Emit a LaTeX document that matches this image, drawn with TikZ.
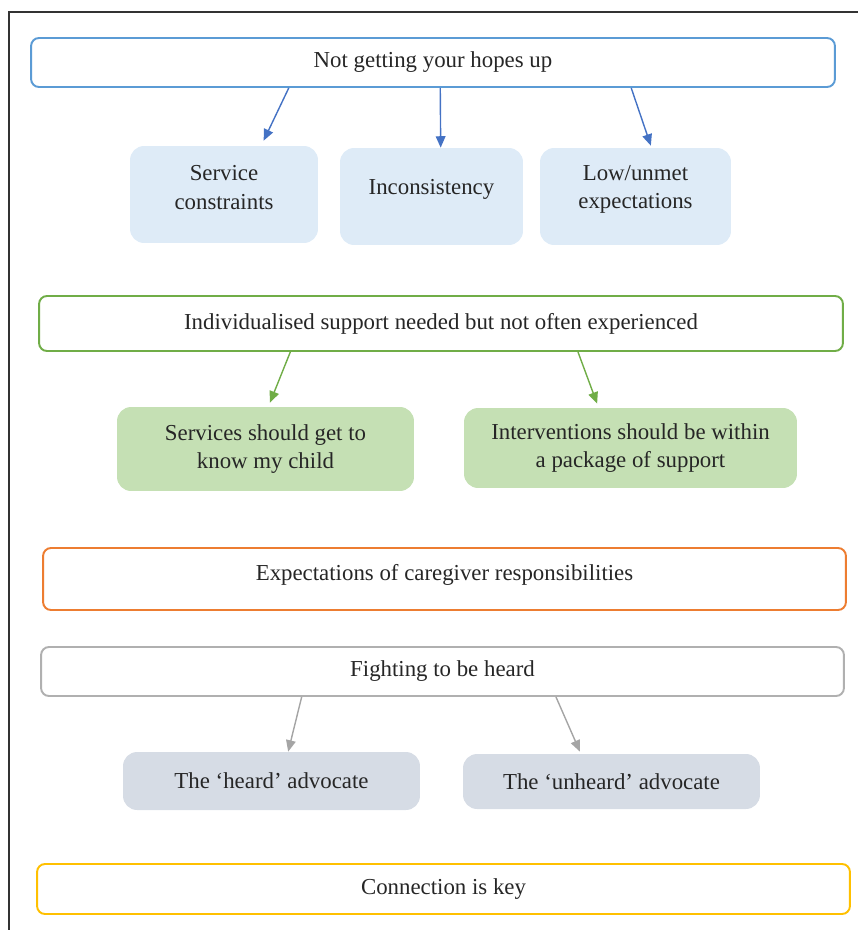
\documentclass[tikz,border=0pt]{standalone}
\usepackage{fontspec}
\setmainfont{Liberation Serif}
\usepackage{tikz}
\usetikzlibrary{calc, arrows.meta}
\definecolor{themeblue}{HTML}{5B9BD5}
\definecolor{arrowblue}{HTML}{4472C4}
\definecolor{fillblue}{HTML}{DEEBF7}
\definecolor{themegreen}{HTML}{70AD47}
\definecolor{fillgreen}{HTML}{C5E0B4}
\definecolor{themeorange}{HTML}{ED7D31}
\definecolor{themegray}{HTML}{B0B0B0}
\definecolor{arrowgray}{HTML}{A5A5A5}
\definecolor{fillgray}{HTML}{D6DCE5}
\definecolor{themeyellow}{HTML}{FFC000}
\definecolor{textdark}{HTML}{262626}
\tikzstyle{theme}    = [rectangle, rounded corners=4.5pt, line width=1.1pt, fill=white, text=textdark, font=\fontsize{13}{16.4}\selectfont, inner sep=0pt, align=center]
\tikzstyle{subtheme} = [rectangle, rounded corners=8pt, text=textdark, font=\fontsize{13}{16.4}\selectfont, inner sep=0pt, align=center]
\tikzstyle{boxtext}  = [text=textdark, font=\fontsize{13}{16.4}\selectfont, inner sep=0pt, align=center, yshift=4pt]
\tikzstyle{arrow}    = [line width=0.8pt, -{Triangle[length=6.5pt,width=5.5pt]}]

\begin{document}
\begin{tikzpicture}[x=0.02cm, y=-0.02cm]
  \useasboundingbox (0,0) rectangle (858,930);
  % frame
  \draw[line width=0.6pt, black!80] (9,930) -- (9,12) -- (858,12);

  % not getting your hopes up
  \node[theme, draw=themeblue, minimum width=16.08cm, minimum height=0.98cm] (hopes) at (433,62.5) {Not getting your hopes up};
  \node[subtheme, fill=fillblue, minimum width=3.76cm, minimum height=1.94cm, label={[boxtext]center:{Service\\constraints}}] (service) at (224,194.5) {};
  \node[subtheme, fill=fillblue, minimum width=3.66cm, minimum height=1.94cm, label={[boxtext]center:Inconsistency}] (inconsistency) at (431.5,196.5) {};
  \node[subtheme, fill=fillblue, minimum width=3.82cm, minimum height=1.94cm, label={[boxtext]center:{Low/unmet\\expectations}}] (lowmet) at (635.5,196.5) {};
  \draw[arrow, arrowblue] ($(hopes.south west)!0.321!(hopes.south east)$) -- ($(service.north west)!0.71!(service.north east)+(0,-5)$);
  \draw[arrow, arrowblue] ($(hopes.south west)!0.509!(hopes.south east)$) -- ($(inconsistency.north west)!0.55!(inconsistency.north east)$);
  \draw[arrow, arrowblue] ($(hopes.south west)!0.746!(hopes.south east)$) -- ($(lowmet.north west)!0.58!(lowmet.north east)+(0,-2)$);

  % individualised support
  \node[theme, draw=themegreen, minimum width=16.08cm, minimum height=1.1cm] (individual) at (441,323.5) {Individualised support needed but not often experienced};
  \node[subtheme, fill=fillgreen, minimum width=5.94cm, minimum height=1.68cm] (knowchild) at (265.5,449) {Services should get to\\know my child};
  \node[subtheme, fill=fillgreen, minimum width=6.66cm, minimum height=1.6cm] (package) at (630.5,448) {Interventions should be within\\a package of support};
  \draw[arrow, themegreen] ($(individual.south west)!0.313!(individual.south east)$) -- ($(knowchild.north west)!0.515!(knowchild.north east)+(0,-4)$);
  \draw[arrow, themegreen] ($(individual.south west)!0.67!(individual.south east)$) -- ($(package.north west)!0.40!(package.north east)+(0,-4)$);

  % caregiver responsibilities
  \node[theme, draw=themeorange, minimum width=16.06cm, minimum height=1.24cm, label={[boxtext, yshift=-1.5pt]center:Expectations of caregiver responsibilities}] (caregiver) at (444.5,579) {};

  % fighting to be heard
  \node[theme, draw=themegray, minimum width=16.06cm, minimum height=0.98cm] (fighting) at (442.5,671.5) {Fighting to be heard};
  \node[subtheme, fill=fillgray, minimum width=5.94cm, minimum height=1.16cm] (heard) at (271.5,781) {The ‘heard’ advocate};
  \node[subtheme, fill=fillgray, minimum width=5.94cm, minimum height=1.1cm] (unheard) at (611.5,781.5) {The ‘unheard’ advocate};
  \draw[arrow, arrowgray] ($(fighting.south west)!0.325!(fighting.south east)$) -- ($(heard.north west)!0.556!(heard.north east)$);
  \draw[arrow, arrowgray] ($(fighting.south west)!0.641!(fighting.south east)$) -- ($(unheard.north west)!0.394!(unheard.north east)+(0,-2)$);

  % connection
  \node[theme, draw=themeyellow, minimum width=16.26cm, minimum height=1.0cm] (connection) at (443.5,889) {Connection is key};
\end{tikzpicture}
\end{document}
